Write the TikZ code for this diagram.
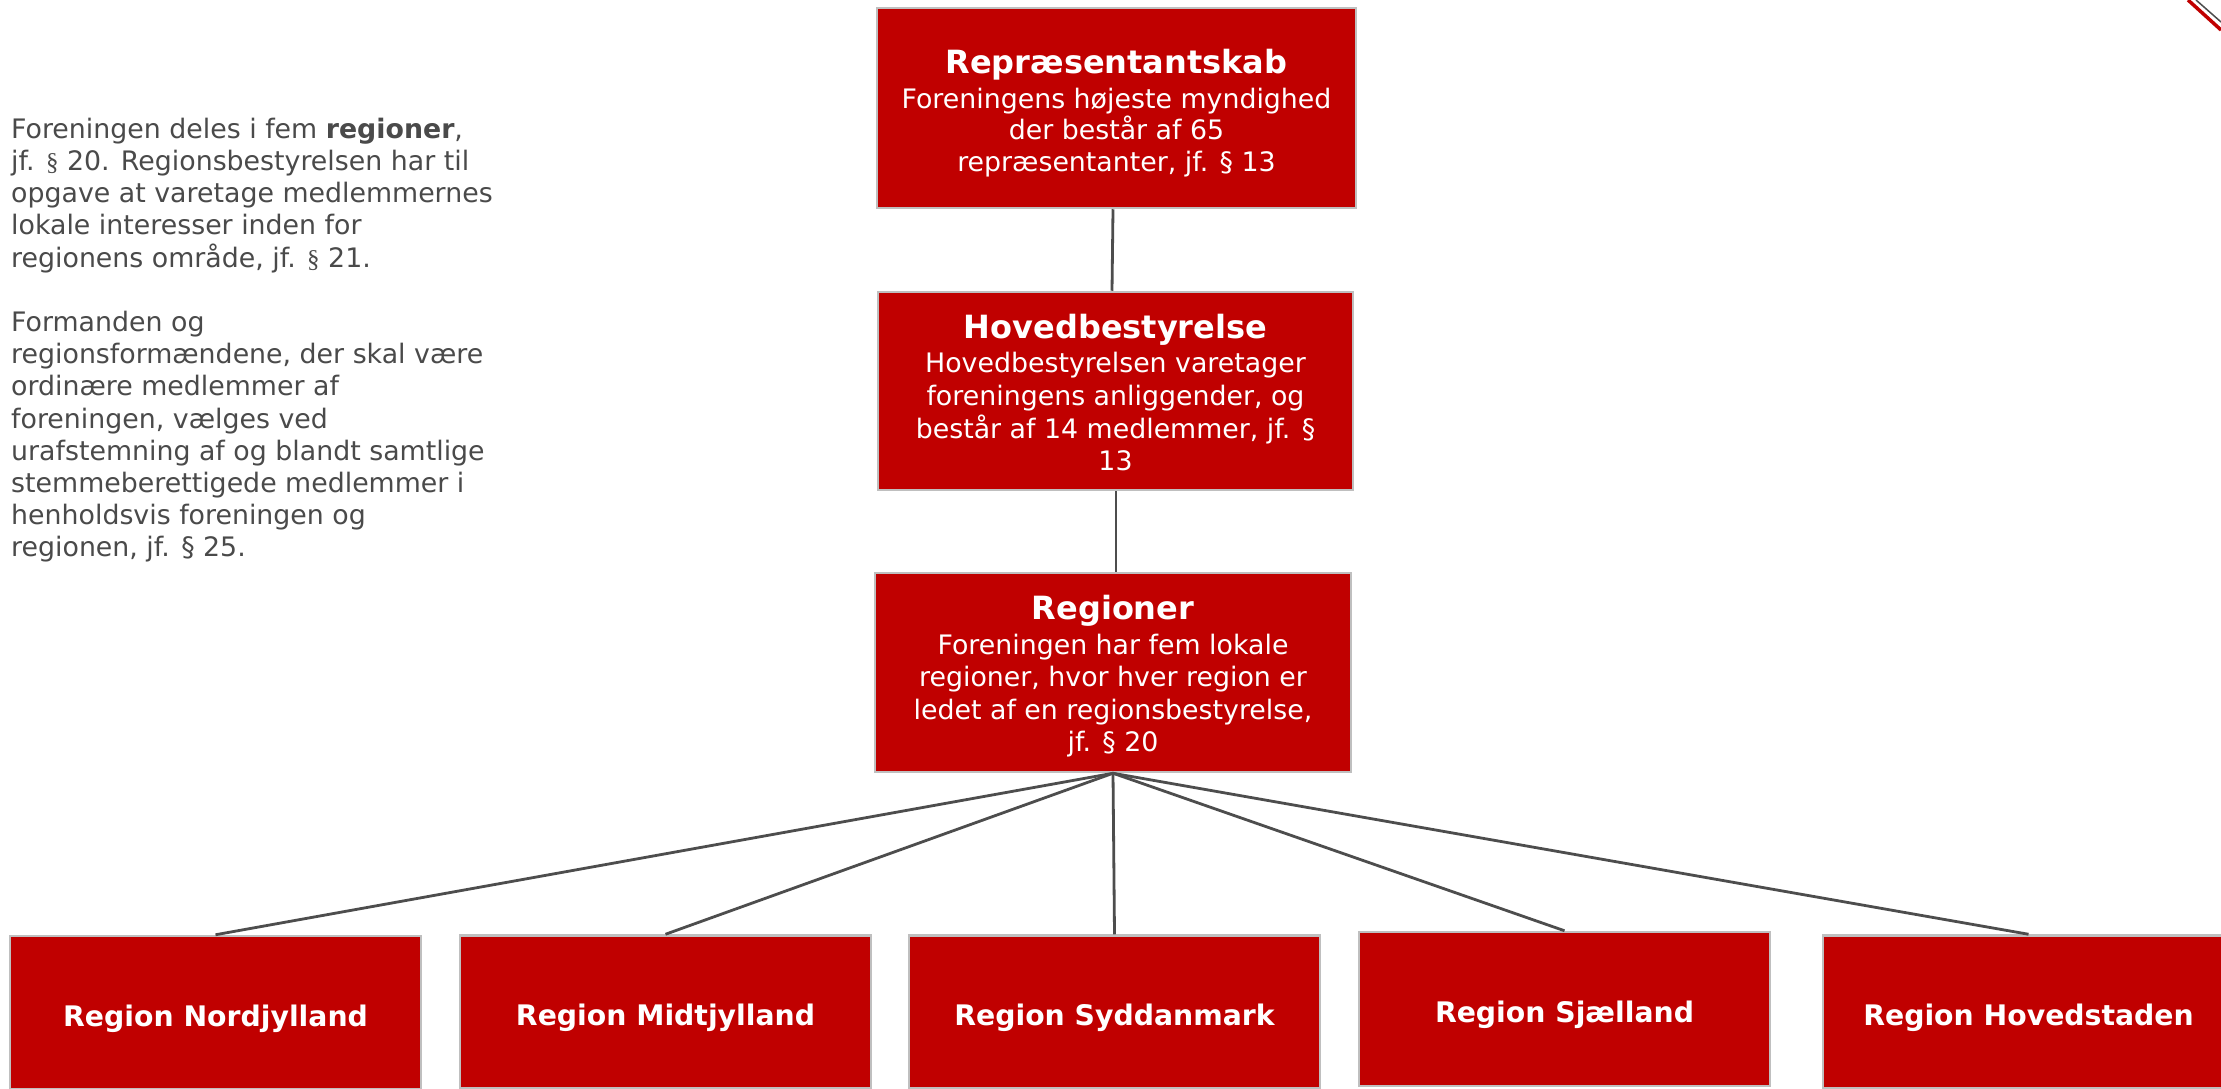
\documentclass[tikz,border=0pt]{standalone}
\usepackage{fontspec}
\setmainfont{DejaVu Sans}
\newfontfamily\parafont{Liberation Serif}
\definecolor{boxred}{HTML}{C00000}
\definecolor{boxedge}{HTML}{BFBFBF}
\definecolor{linegray}{HTML}{4D4D4D}
\definecolor{txtgray}{HTML}{4A4A4A}
\tikzset{
  orgbox/.style={draw=boxedge, line width=2.5pt, fill=boxred, text=white, align=center, inner sep=0pt},
  bigbox/.style={orgbox, font=\fontsize{26.8}{31.5}\selectfont},
  regbox/.style={orgbox, minimum width=411pt, minimum height=153pt, text height=30pt, text depth=2.4pt,
     font=\fontsize{28.3}{33}\selectfont\bfseries},
  conn/.style={draw=linegray, line width=2.8pt}
}
\newcommand{\ttl}[2]{{\fontsize{32}{36}\selectfont\bfseries\rule{0pt}{#1}#2}}
\newcommand{\para}{{\parafont\fontsize{25}{32}\selectfont\S}}
\begin{document}
\begin{tikzpicture}[x=1pt,y=-1pt]
\useasboundingbox (0,0) rectangle (2221,1089);
\clip (0,0) rectangle (2221,1089);
\fill[white] (0,0) rectangle (2221,1089);

% left text
\node[anchor=north west, inner sep=0pt, text=txtgray, align=left,
      font=\fontsize{26.8}{32.2}\selectfont] (info) at (11,117.8)
{Foreningen deles i fem \textbf{regioner},\\
jf. \para{} 20. Regionsbestyrelsen har til\\
opgave at varetage medlemmernes\\
lokale interesser inden for\\
regionens område, jf. \para{} 21.\\[32.2pt]
Formanden og\\
regionsformændene, der skal være\\
ordinære medlemmer af\\
foreningen, vælges ved\\
urafstemning af og blandt samtlige\\
stemmeberettigede medlemmer i\\
henholdsvis foreningen og\\
regionen, jf. § 25.};

% main boxes
\node[bigbox, minimum width=479pt, minimum height=200pt] (rep) at (1116.5,108)
{\ttl{35pt}{Repræsentantskab}\\[3pt]
Foreningens højeste myndighed\\
der består af 65\\
repræsentanter, jf. § 13};

\node[bigbox, minimum width=475pt, minimum height=198pt, font=\fontsize{26.8}{32.6}\selectfont] (hov) at (1115.5,391)
{\ttl{27.5pt}{Hovedbestyrelse}\\[2pt]
Hovedbestyrelsen varetager\\
foreningens anliggender, og\\
består af 14 medlemmer, jf. §\\
13};

\node[bigbox, minimum width=476pt, minimum height=199pt, font=\fontsize{26.8}{32.3}\selectfont] (reg) at (1113,672.5)
{\ttl{31pt}{Regioner}\\[3pt]
Foreningen har fem lokale\\
regioner, hvor hver region er\\
ledet af en regionsbestyrelse,\\
jf. § 20};

% region boxes
\node[regbox] (r1) at (215.5,1012.5) {Region Nordjylland};
\node[regbox] (r2) at (665.5,1012) {Region Midtjylland};
\node[regbox] (r3) at (1114.5,1012) {Region Syddanmark};
\node[regbox, minimum height=154pt] (r4) at (1564.5,1009) {Region Sjælland};
\node[regbox] (r5) at (2028.5,1012) {Region Hovedstaden};

% connectors
\draw[conn] ([xshift=-3.5pt]rep.south) -- ([xshift=-3.5pt]hov.north);
\draw[conn] ([xshift=0.5pt]hov.south) -- ([xshift=3pt]reg.north);
\foreach \r in {r1,r2,r3,r4,r5}
  \draw[conn] (reg.south) -- (\r.north);

% corner decoration
\coordinate (c1) at (2188,0);
\coordinate (c2) at (2221,30);
\coordinate (c3) at (2196,0);
\coordinate (c4) at (2221,22);
\draw[boxred, line width=3.5pt] (c1) -- (c2);
\draw[linegray, line width=1.5pt] (c3) -- (c4);
\end{tikzpicture}
\end{document}
